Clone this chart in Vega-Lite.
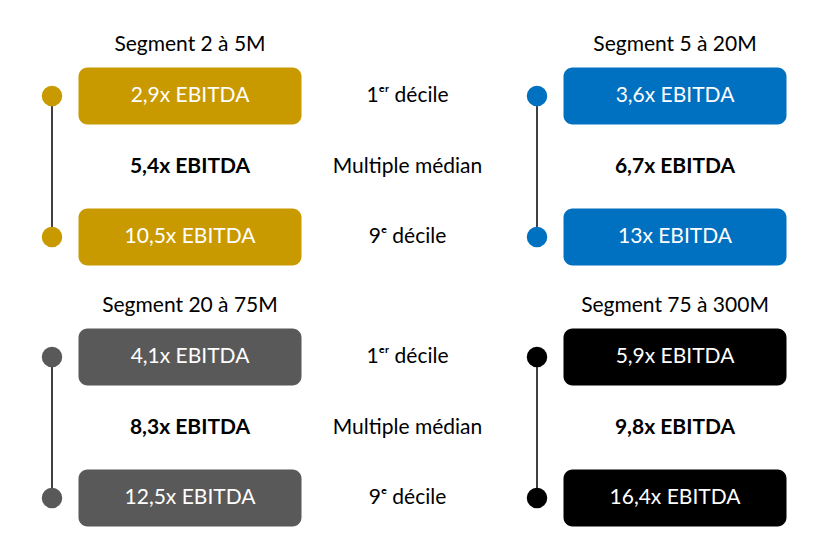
{
  "$schema": "https://vega.github.io/schema/vega-lite/v6.json",
  "description": "Multiples EBITDA par segment : 1er décile, médian, 9e décile",
  "background": "white",
  "padding": 0,
  "spacing": 0,
  "bounds": "flush",
  "data": {
    "values": [
      {"moitie": "haut", "cote": "gauche", "segment": "Segment 2 à 5M", "stat": "d1", "valeur": "2,9x EBITDA"},
      {"moitie": "haut", "cote": "gauche", "segment": "Segment 2 à 5M", "stat": "med", "valeur": "5,4x EBITDA"},
      {"moitie": "haut", "cote": "gauche", "segment": "Segment 2 à 5M", "stat": "d9", "valeur": "10,5x EBITDA"},
      {"moitie": "haut", "cote": "droite", "segment": "Segment 5 à 20M", "stat": "d1", "valeur": "3,6x EBITDA"},
      {"moitie": "haut", "cote": "droite", "segment": "Segment 5 à 20M", "stat": "med", "valeur": "6,7x EBITDA"},
      {"moitie": "haut", "cote": "droite", "segment": "Segment 5 à 20M", "stat": "d9", "valeur": "13x EBITDA"},
      {"moitie": "bas", "cote": "gauche", "segment": "Segment 20 à 75M", "stat": "d1", "valeur": "4,1x EBITDA"},
      {"moitie": "bas", "cote": "gauche", "segment": "Segment 20 à 75M", "stat": "med", "valeur": "8,3x EBITDA"},
      {"moitie": "bas", "cote": "gauche", "segment": "Segment 20 à 75M", "stat": "d9", "valeur": "12,5x EBITDA"},
      {"moitie": "bas", "cote": "droite", "segment": "Segment 75 à 300M", "stat": "d1", "valeur": "5,9x EBITDA"},
      {"moitie": "bas", "cote": "droite", "segment": "Segment 75 à 300M", "stat": "med", "valeur": "9,8x EBITDA"},
      {"moitie": "bas", "cote": "droite", "segment": "Segment 75 à 300M", "stat": "d9", "valeur": "16,4x EBITDA"},
      {"moitie": "haut", "stat": "d1", "libelle": "1ᵉʳ décile"},
      {"moitie": "haut", "stat": "med", "libelle": "Multiple médian"},
      {"moitie": "haut", "stat": "d9", "libelle": "9ᵉ décile"},
      {"moitie": "bas", "stat": "d1", "libelle": "1ᵉʳ décile"},
      {"moitie": "bas", "stat": "med", "libelle": "Multiple médian"},
      {"moitie": "bas", "stat": "d9", "libelle": "9ᵉ décile"}
    ]
  },
  "facet": {
    "row": {"field": "moitie", "type": "nominal", "sort": ["haut", "bas"], "header": {"title": null, "labels": false}}
  },
  "spec": {
    "width": 833,
    "height": 261,
    "encoding": {
      "y": {"field": "stat", "type": "nominal", "axis": null,
            "scale": {"type": "point", "domain": ["d1", "med", "d9"], "range": [96, 237], "padding": 0}}
    },
    "layer": [
      {
        "transform": [{"filter": "datum.valeur && datum.stat != 'med'"}],
        "mark": {"type": "line", "color": "#404040", "strokeWidth": 2},
        "encoding": {
          "x": {"field": "cote", "type": "nominal", "axis": null,
                "scale": {"type": "point", "domain": ["gauche", "droite"], "range": [52, 537], "padding": 0}},
          "detail": {"field": "segment"}
        }
      },
      {
        "transform": [{"filter": "datum.valeur && datum.stat != 'med'"}],
        "mark": {"type": "circle", "size": 420, "opacity": 1},
        "encoding": {
          "x": {"field": "cote", "type": "nominal", "axis": null,
                "scale": {"type": "point", "domain": ["gauche", "droite"], "range": [52, 537], "padding": 0}},
          "color": {"field": "segment", "type": "nominal", "legend": null,
                    "scale": {"domain": ["Segment 2 à 5M", "Segment 5 à 20M", "Segment 20 à 75M", "Segment 75 à 300M"],
                              "range": ["#C99A00", "#0070C0", "#595959", "#000000"]}}
        }
      },
      {
        "transform": [{"filter": "datum.valeur && datum.stat != 'med'"}],
        "mark": {"type": "rect", "width": 223, "height": 57, "cornerRadius": 9},
        "encoding": {
          "x": {"field": "cote", "type": "nominal", "axis": null,
                "scale": {"type": "point", "domain": ["gauche", "droite"], "range": [190, 675], "padding": 0}},
          "color": {"field": "segment", "type": "nominal", "legend": null}
        }
      },
      {
        "transform": [{"filter": "datum.valeur && datum.stat != 'med'"}],
        "mark": {"type": "text", "color": "white", "fontSize": 21, "baseline": "middle"},
        "encoding": {
          "x": {"field": "cote", "type": "nominal", "axis": null,
                "scale": {"type": "point", "domain": ["gauche", "droite"], "range": [190, 675], "padding": 0}},
          "text": {"field": "valeur"}
        }
      },
      {
        "transform": [{"filter": "datum.stat == 'med' && datum.valeur"}],
        "mark": {"type": "text", "color": "black", "fontSize": 21, "fontWeight": "bold", "baseline": "middle"},
        "encoding": {
          "x": {"field": "cote", "type": "nominal", "axis": null,
                "scale": {"type": "point", "domain": ["gauche", "droite"], "range": [190, 675], "padding": 0}},
          "text": {"field": "valeur"}
        }
      },
      {
        "transform": [{"filter": "datum.stat == 'd1' && datum.valeur"}],
        "mark": {"type": "text", "color": "black", "fontSize": 21, "baseline": "middle", "dy": -51},
        "encoding": {
          "x": {"field": "cote", "type": "nominal", "axis": null,
                "scale": {"type": "point", "domain": ["gauche", "droite"], "range": [190, 675], "padding": 0}},
          "text": {"field": "segment"}
        }
      },
      {
        "transform": [{"filter": "datum.libelle"}],
        "mark": {"type": "text", "color": "black", "fontSize": 21, "baseline": "middle", "dx": -9},
        "encoding": {
          "text": {"field": "libelle"}
        }
      }
    ],
    "resolve": {"scale": {"x": "independent"}}
  },
  "config": {
    "view": {"stroke": null},
    "font": "Lato",
    "text": {"font": "Lato"}
  }
}
